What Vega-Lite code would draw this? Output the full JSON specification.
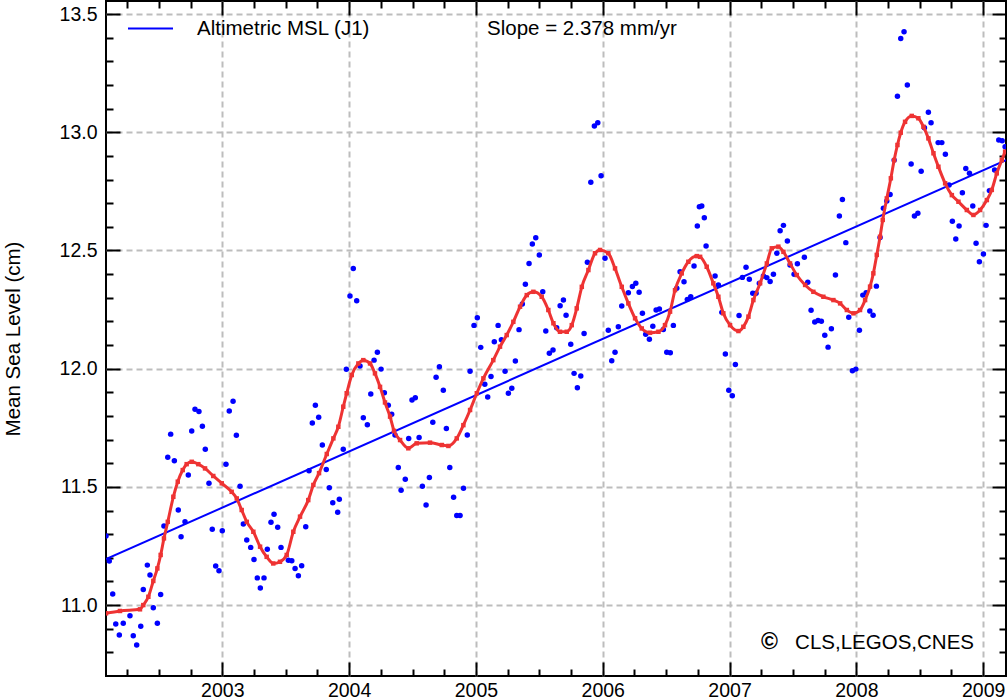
{
  "$schema": "https://vega.github.io/schema/vega-lite/v6.json",
  "width": 900,
  "height": 675,
  "autosize": {"type": "none"},
  "padding": {"left": 106, "top": 1, "right": 1, "bottom": 24},
  "background": "white",
  "config": {
    "view": {"stroke": "black", "strokeWidth": 2},
    "font": "Liberation Sans",
    "axis": {"labelFont": "Liberation Sans", "titleFont": "Liberation Sans", "labelColor": "black", "titleColor": "black", "tickColor": "black", "tickWidth": 2, "labelFlush": false, "labelOverlap": false, "labelBound": false, "domain": false}
  },
  "datasets": {
    "obs": [
      {"year":2002.083,"msl":11.292},{"year":2002.109,"msl":11.186},{"year":2002.136,"msl":11.047},{"year":2002.160,"msl":10.920},{"year":2002.188,"msl":10.873},{"year":2002.219,"msl":10.923},{"year":2002.272,"msl":10.955},{"year":2002.298,"msl":10.870},{"year":2002.325,"msl":10.831},{"year":2002.357,"msl":10.910},{"year":2002.377,"msl":11.066},{"year":2002.409,"msl":11.169},{"year":2002.430,"msl":11.127},{"year":2002.456,"msl":10.989},{"year":2002.488,"msl":10.923},{"year":2002.514,"msl":11.045},{"year":2002.540,"msl":11.334},{"year":2002.570,"msl":11.625},{"year":2002.593,"msl":11.723},{"year":2002.622,"msl":11.610},{"year":2002.653,"msl":11.402},{"year":2002.675,"msl":11.289},{"year":2002.706,"msl":11.352},{"year":2002.732,"msl":11.550},{"year":2002.759,"msl":11.736},{"year":2002.785,"msl":11.828},{"year":2002.816,"msl":11.819},{"year":2002.843,"msl":11.756},{"year":2002.866,"msl":11.659},{"year":2002.895,"msl":11.515},{"year":2002.921,"msl":11.321},{"year":2002.948,"msl":11.165},{"year":2002.974,"msl":11.145},{"year":2003.000,"msl":11.314},{"year":2003.029,"msl":11.596},{"year":2003.055,"msl":11.821},{"year":2003.085,"msl":11.862},{"year":2003.111,"msl":11.718},{"year":2003.140,"msl":11.503},{"year":2003.166,"msl":11.343},{"year":2003.193,"msl":11.275},{"year":2003.224,"msl":11.244},{"year":2003.250,"msl":11.193},{"year":2003.276,"msl":11.115},{"year":2003.300,"msl":11.072},{"year":2003.329,"msl":11.115},{"year":2003.355,"msl":11.236},{"year":2003.384,"msl":11.350},{"year":2003.408,"msl":11.384},{"year":2003.437,"msl":11.329},{"year":2003.463,"msl":11.244},{"year":2003.521,"msl":11.190},{"year":2003.548,"msl":11.187},{"year":2003.574,"msl":11.155},{"year":2003.600,"msl":11.124},{"year":2003.626,"msl":11.166},{"year":2003.658,"msl":11.331},{"year":2003.684,"msl":11.568},{"year":2003.710,"msl":11.770},{"year":2003.734,"msl":11.845},{"year":2003.760,"msl":11.794},{"year":2003.789,"msl":11.677},{"year":2003.820,"msl":11.573},{"year":2003.844,"msl":11.496},{"year":2003.871,"msl":11.433},{"year":2003.910,"msl":11.393},{"year":2003.923,"msl":11.448},{"year":2003.954,"msl":11.659},{"year":2003.978,"msl":11.997},{"year":2004.007,"msl":12.307},{"year":2004.033,"msl":12.424},{"year":2004.060,"msl":12.287},{"year":2004.086,"msl":12.011},{"year":2004.112,"msl":11.792},{"year":2004.144,"msl":11.763},{"year":2004.171,"msl":11.893},{"year":2004.197,"msl":12.036},{"year":2004.223,"msl":12.069},{"year":2004.252,"msl":11.998},{"year":2004.278,"msl":11.898},{"year":2004.309,"msl":11.845},{"year":2004.336,"msl":11.807},{"year":2004.362,"msl":11.719},{"year":2004.388,"msl":11.582},{"year":2004.410,"msl":11.486},{"year":2004.443,"msl":11.532},{"year":2004.470,"msl":11.705},{"year":2004.496,"msl":11.867},{"year":2004.522,"msl":11.877},{"year":2004.552,"msl":11.709},{"year":2004.578,"msl":11.503},{"year":2004.607,"msl":11.423},{"year":2004.633,"msl":11.540},{"year":2004.660,"msl":11.773},{"year":2004.686,"msl":11.964},{"year":2004.712,"msl":12.008},{"year":2004.743,"msl":11.909},{"year":2004.767,"msl":11.747},{"year":2004.794,"msl":11.582},{"year":2004.824,"msl":11.456},{"year":2004.849,"msl":11.379},{"year":2004.875,"msl":11.379},{"year":2004.902,"msl":11.494},{"year":2004.932,"msl":11.719},{"year":2004.954,"msl":11.989},{"year":2004.985,"msl":12.183},{"year":2005.011,"msl":12.215},{"year":2005.038,"msl":12.090},{"year":2005.070,"msl":11.934},{"year":2005.093,"msl":11.880},{"year":2005.119,"msl":11.967},{"year":2005.145,"msl":12.114},{"year":2005.175,"msl":12.183},{"year":2005.201,"msl":12.122},{"year":2005.230,"msl":11.989},{"year":2005.256,"msl":11.896},{"year":2005.283,"msl":11.917},{"year":2005.311,"msl":12.032},{"year":2005.340,"msl":12.165},{"year":2005.366,"msl":12.273},{"year":2005.390,"msl":12.357},{"year":2005.419,"msl":12.445},{"year":2005.445,"msl":12.527},{"year":2005.472,"msl":12.554},{"year":2005.500,"msl":12.481},{"year":2005.527,"msl":12.325},{"year":2005.551,"msl":12.159},{"year":2005.579,"msl":12.065},{"year":2005.608,"msl":12.079},{"year":2005.637,"msl":12.173},{"year":2005.664,"msl":12.266},{"year":2005.690,"msl":12.290},{"year":2005.711,"msl":12.226},{"year":2005.748,"msl":12.103},{"year":2005.774,"msl":11.980},{"year":2005.800,"msl":11.919},{"year":2005.827,"msl":11.969},{"year":2005.853,"msl":12.149},{"year":2005.879,"msl":12.450},{"year":2005.906,"msl":12.788},{"year":2005.934,"msl":13.026},{"year":2005.961,"msl":13.040},{"year":2005.987,"msl":12.816},{"year":2006.018,"msl":12.467},{"year":2006.044,"msl":12.162},{"year":2006.071,"msl":12.033},{"year":2006.097,"msl":12.069},{"year":2006.123,"msl":12.177},{"year":2006.150,"msl":12.265},{"year":2006.202,"msl":12.321},{"year":2006.234,"msl":12.347},{"year":2006.261,"msl":12.361},{"year":2006.287,"msl":12.323},{"year":2006.313,"msl":12.234},{"year":2006.339,"msl":12.145},{"year":2006.368,"msl":12.124},{"year":2006.395,"msl":12.179},{"year":2006.421,"msl":12.248},{"year":2006.447,"msl":12.252},{"year":2006.478,"msl":12.166},{"year":2006.505,"msl":12.069},{"year":2006.533,"msl":12.067},{"year":2006.557,"msl":12.183},{"year":2006.584,"msl":12.340},{"year":2006.610,"msl":12.410},{"year":2006.641,"msl":12.368},{"year":2006.667,"msl":12.293},{"year":2006.694,"msl":12.304},{"year":2006.720,"msl":12.434},{"year":2006.746,"msl":12.603},{"year":2006.762,"msl":12.685},{"year":2006.781,"msl":12.688},{"year":2006.801,"msl":12.638},{"year":2006.815,"msl":12.519},{"year":2006.886,"msl":12.392},{"year":2006.912,"msl":12.354},{"year":2006.939,"msl":12.238},{"year":2006.967,"msl":12.062},{"year":2006.994,"msl":11.909},{"year":2007.022,"msl":11.885},{"year":2007.046,"msl":12.018},{"year":2007.075,"msl":12.225},{"year":2007.101,"msl":12.386},{"year":2007.130,"msl":12.429},{"year":2007.156,"msl":12.378},{"year":2007.183,"msl":12.319},{"year":2007.209,"msl":12.319},{"year":2007.235,"msl":12.361},{"year":2007.267,"msl":12.392},{"year":2007.294,"msl":12.385},{"year":2007.320,"msl":12.369},{"year":2007.346,"msl":12.399},{"year":2007.373,"msl":12.488},{"year":2007.399,"msl":12.583},{"year":2007.425,"msl":12.606},{"year":2007.456,"msl":12.540},{"year":2007.477,"msl":12.438},{"year":2007.509,"msl":12.399},{"year":2007.535,"msl":12.444},{"year":2007.590,"msl":12.471},{"year":2007.617,"msl":12.365},{"year":2007.643,"msl":12.247},{"year":2007.672,"msl":12.197},{"year":2007.698,"msl":12.204},{"year":2007.724,"msl":12.200},{"year":2007.751,"msl":12.141},{"year":2007.777,"msl":12.091},{"year":2007.803,"msl":12.169},{"year":2007.835,"msl":12.396},{"year":2007.866,"msl":12.646},{"year":2007.890,"msl":12.715},{"year":2007.917,"msl":12.533},{"year":2007.940,"msl":12.217},{"year":2007.969,"msl":11.991},{"year":2007.996,"msl":11.998},{"year":2008.024,"msl":12.162},{"year":2008.051,"msl":12.311},{"year":2008.077,"msl":12.321},{"year":2008.106,"msl":12.244},{"year":2008.132,"msl":12.226},{"year":2008.158,"msl":12.349},{"year":2008.187,"msl":12.555},{"year":2008.213,"msl":12.678},{"year":2008.240,"msl":12.709},{"year":2008.266,"msl":12.737},{"year":2008.298,"msl":12.882},{"year":2008.324,"msl":13.152},{"year":2008.350,"msl":13.396},{"year":2008.376,"msl":13.425},{"year":2008.402,"msl":13.200},{"year":2008.432,"msl":12.866},{"year":2008.458,"msl":12.646},{"year":2008.485,"msl":12.657},{"year":2008.511,"msl":12.835},{"year":2008.537,"msl":13.019},{"year":2008.568,"msl":13.084},{"year":2008.589,"msl":13.040},{"year":2008.645,"msl":12.956},{"year":2008.674,"msl":12.956},{"year":2008.702,"msl":12.907},{"year":2008.731,"msl":12.777},{"year":2008.757,"msl":12.623},{"year":2008.784,"msl":12.548},{"year":2008.810,"msl":12.603},{"year":2008.836,"msl":12.744},{"year":2008.863,"msl":12.847},{"year":2008.892,"msl":12.826},{"year":2008.918,"msl":12.688},{"year":2008.944,"msl":12.530},{"year":2008.970,"msl":12.452},{"year":2009.002,"msl":12.485},{"year":2009.023,"msl":12.606},{"year":2009.049,"msl":12.753},{"year":2009.090,"msl":12.840},{"year":2009.123,"msl":12.967},{"year":2009.150,"msl":12.964},{"year":2009.173,"msl":12.939}
    ],
    "smooth": [
      {"year":2002.083,"msl":10.965},{"year":2002.193,"msl":10.975},{"year":2002.351,"msl":10.982},{"year":2002.377,"msl":11.000},{"year":2002.417,"msl":11.035},{"year":2002.456,"msl":11.102},{"year":2002.488,"msl":11.155},{"year":2002.514,"msl":11.212},{"year":2002.540,"msl":11.282},{"year":2002.570,"msl":11.352},{"year":2002.614,"msl":11.458},{"year":2002.649,"msl":11.522},{"year":2002.688,"msl":11.571},{"year":2002.719,"msl":11.596},{"year":2002.759,"msl":11.606},{"year":2002.811,"msl":11.596},{"year":2002.864,"msl":11.578},{"year":2002.929,"msl":11.546},{"year":2002.996,"msl":11.515},{"year":2003.074,"msl":11.479},{"year":2003.114,"msl":11.451},{"year":2003.153,"msl":11.402},{"year":2003.193,"msl":11.352},{"year":2003.245,"msl":11.310},{"year":2003.298,"msl":11.247},{"year":2003.350,"msl":11.204},{"year":2003.402,"msl":11.176},{"year":2003.455,"msl":11.183},{"year":2003.508,"msl":11.212},{"year":2003.560,"msl":11.310},{"year":2003.613,"msl":11.374},{"year":2003.678,"msl":11.444},{"year":2003.718,"msl":11.508},{"year":2003.763,"msl":11.558},{"year":2003.824,"msl":11.639},{"year":2003.876,"msl":11.705},{"year":2003.915,"msl":11.754},{"year":2003.954,"msl":11.839},{"year":2003.981,"msl":11.896},{"year":2004.021,"msl":11.973},{"year":2004.073,"msl":12.022},{"year":2004.112,"msl":12.036},{"year":2004.165,"msl":12.022},{"year":2004.204,"msl":11.980},{"year":2004.244,"msl":11.923},{"year":2004.283,"msl":11.857},{"year":2004.323,"msl":11.797},{"year":2004.354,"msl":11.737},{"year":2004.402,"msl":11.698},{"year":2004.467,"msl":11.663},{"year":2004.533,"msl":11.684},{"year":2004.638,"msl":11.687},{"year":2004.731,"msl":11.677},{"year":2004.783,"msl":11.673},{"year":2004.849,"msl":11.705},{"year":2004.901,"msl":11.761},{"year":2004.954,"msl":11.825},{"year":2005.007,"msl":11.896},{"year":2005.059,"msl":11.959},{"year":2005.137,"msl":12.036},{"year":2005.190,"msl":12.093},{"year":2005.243,"msl":12.142},{"year":2005.295,"msl":12.198},{"year":2005.348,"msl":12.262},{"year":2005.401,"msl":12.311},{"year":2005.453,"msl":12.325},{"year":2005.519,"msl":12.304},{"year":2005.571,"msl":12.248},{"year":2005.611,"msl":12.192},{"year":2005.663,"msl":12.156},{"year":2005.716,"msl":12.156},{"year":2005.756,"msl":12.184},{"year":2005.795,"msl":12.255},{"year":2005.835,"msl":12.346},{"year":2005.887,"msl":12.417},{"year":2005.939,"msl":12.488},{"year":2005.979,"msl":12.502},{"year":2006.044,"msl":12.488},{"year":2006.097,"msl":12.424},{"year":2006.150,"msl":12.346},{"year":2006.202,"msl":12.276},{"year":2006.255,"msl":12.213},{"year":2006.308,"msl":12.170},{"year":2006.373,"msl":12.152},{"year":2006.439,"msl":12.156},{"year":2006.491,"msl":12.184},{"year":2006.531,"msl":12.241},{"year":2006.570,"msl":12.332},{"year":2006.623,"msl":12.403},{"year":2006.675,"msl":12.452},{"year":2006.742,"msl":12.476},{"year":2006.768,"msl":12.473},{"year":2006.820,"msl":12.431},{"year":2006.872,"msl":12.361},{"year":2006.912,"msl":12.304},{"year":2006.951,"msl":12.234},{"year":2007.004,"msl":12.184},{"year":2007.070,"msl":12.159},{"year":2007.109,"msl":12.177},{"year":2007.149,"msl":12.220},{"year":2007.188,"msl":12.290},{"year":2007.241,"msl":12.361},{"year":2007.294,"msl":12.445},{"year":2007.333,"msl":12.509},{"year":2007.385,"msl":12.516},{"year":2007.425,"msl":12.494},{"year":2007.477,"msl":12.445},{"year":2007.530,"msl":12.396},{"year":2007.596,"msl":12.354},{"year":2007.661,"msl":12.325},{"year":2007.740,"msl":12.304},{"year":2007.819,"msl":12.290},{"year":2007.872,"msl":12.276},{"year":2007.925,"msl":12.248},{"year":2007.977,"msl":12.234},{"year":2008.029,"msl":12.248},{"year":2008.069,"msl":12.290},{"year":2008.108,"msl":12.347},{"year":2008.134,"msl":12.403},{"year":2008.161,"msl":12.481},{"year":2008.187,"msl":12.558},{"year":2008.208,"msl":12.629},{"year":2008.240,"msl":12.720},{"year":2008.272,"msl":12.805},{"year":2008.298,"msl":12.882},{"year":2008.324,"msl":12.946},{"year":2008.350,"msl":12.998},{"year":2008.384,"msl":13.044},{"year":2008.437,"msl":13.069},{"year":2008.489,"msl":13.059},{"year":2008.529,"msl":13.023},{"year":2008.568,"msl":12.974},{"year":2008.608,"msl":12.911},{"year":2008.647,"msl":12.854},{"year":2008.700,"msl":12.784},{"year":2008.753,"msl":12.734},{"year":2008.805,"msl":12.706},{"year":2008.871,"msl":12.671},{"year":2008.923,"msl":12.650},{"year":2008.976,"msl":12.671},{"year":2009.029,"msl":12.713},{"year":2009.068,"msl":12.756},{"year":2009.107,"msl":12.826},{"year":2009.147,"msl":12.882},{"year":2009.173,"msl":12.918}
    ],
    "trend": [
      {"year": 2002.083, "msl": 11.194, "series": "Altimetric MSL (J1)"},
      {"year": 2009.18, "msl": 12.882, "series": "Altimetric MSL (J1)"}
    ],
    "notes": [
      {"year": 2005.088, "msl": 13.411, "label": "Slope = 2.378 mm/yr"},
      {"year": 2007.517, "msl": 10.814, "label": "CLS,LEGOS,CNES"}
    ],
    "copy": [
      {"year": 2007.249, "msl": 10.814, "label": "©"}
    ]
  },
  "resolve": {"axis": {"x": "independent", "y": "independent"}},
  "layer": [
    {
      "data": {"name": "obs"},
      "mark": {"type": "circle", "size": 30, "color": "#0000ff", "opacity": 1, "clip": true},
      "encoding": {
        "x": {"field": "year", "type": "quantitative", "scale": {"domain": [2002.083, 2009.18], "nice": false, "zero": false},
          "axis": {"orient": "bottom", "values": [2003, 2004, 2005, 2006, 2007, 2008, 2009], "format": "d", "tickSize": -14, "labelFontSize": 19.5, "labelPadding": 34, "labelAlign": "center", "labelBaseline": "alphabetic", "grid": true, "gridColor": "#bdbdbd", "gridDash": [6, 4], "gridWidth": 2, "title": null}},
        "y": {"field": "msl", "type": "quantitative", "scale": {"domain": [10.7, 13.555], "nice": false, "zero": false},
          "axis": {"orient": "left", "values": [11, 11.5, 12, 12.5, 13, 13.5], "format": ".1f", "tickSize": -14, "labelFontSize": 19.5, "labelPadding": 23, "grid": true, "gridColor": "#bdbdbd", "gridDash": [6, 4], "gridWidth": 2, "title": "Mean Sea Level (cm)", "titleFontSize": 20.5, "titleFontWeight": "normal", "titlePadding": 36}}
      }
    },
    {
      "data": {"name": "trend"},
      "mark": {"type": "line", "strokeWidth": 2, "clip": true},
      "encoding": {
        "x": {"field": "year", "type": "quantitative", "scale": {"domain": [2002.083, 2009.18], "nice": false, "zero": false},
          "axis": {"orient": "top", "values": [2002.25, 2002.5, 2002.75, 2003.25, 2003.5, 2003.75, 2004.25, 2004.5, 2004.75, 2005.25, 2005.5, 2005.75, 2006.25, 2006.5, 2006.75, 2007.25, 2007.5, 2007.75, 2008.25, 2008.5, 2008.75], "tickSize": -7, "labels": false, "grid": false, "title": null}},
        "y": {"field": "msl", "type": "quantitative", "scale": {"domain": [10.7, 13.555], "nice": false, "zero": false},
          "axis": {"orient": "right", "values": [10.8, 10.9, 11.1, 11.2, 11.3, 11.4, 11.6, 11.7, 11.8, 11.9, 12.1, 12.2, 12.3, 12.4, 12.6, 12.7, 12.8, 12.9, 13.1, 13.2, 13.3, 13.4], "tickSize": -7, "labels": false, "grid": false, "title": null}},
        "color": {"field": "series", "type": "nominal", "scale": {"range": ["#0000ff"]},
          "legend": {"orient": "none", "legendX": 21, "legendY": 4, "title": null, "symbolType": "stroke", "symbolSize": 2025, "symbolStrokeWidth": 2, "labelOffset": 23, "labelFontSize": 20.5, "labelFont": "Liberation Sans", "labelColor": "black", "labelLimit": 0, "padding": 0}}
      }
    },
    {
      "data": {"name": "smooth"},
      "mark": {"type": "line", "color": "#ee3333", "strokeWidth": 3, "interpolate": "monotone", "clip": true},
      "encoding": {
        "x": {"field": "year", "type": "quantitative", "scale": {"domain": [2002.083, 2009.18], "nice": false, "zero": false},
          "axis": {"orient": "bottom", "values": [2002.25, 2002.5, 2002.75, 2003.25, 2003.5, 2003.75, 2004.25, 2004.5, 2004.75, 2005.25, 2005.5, 2005.75, 2006.25, 2006.5, 2006.75, 2007.25, 2007.5, 2007.75, 2008.25, 2008.5, 2008.75], "tickSize": -7, "labels": false, "grid": false, "title": null}},
        "y": {"field": "msl", "type": "quantitative", "scale": {"domain": [10.7, 13.555], "nice": false, "zero": false},
          "axis": {"orient": "left", "values": [10.8, 10.9, 11.1, 11.2, 11.3, 11.4, 11.6, 11.7, 11.8, 11.9, 12.1, 12.2, 12.3, 12.4, 12.6, 12.7, 12.8, 12.9, 13.1, 13.2, 13.3, 13.4], "tickSize": -7, "labels": false, "grid": false, "title": null}}
      }
    },
    {
      "data": {"name": "smooth"},
      "mark": {"type": "square", "size": 20, "color": "#ee3333", "opacity": 1, "clip": true},
      "encoding": {
        "x": {"field": "year", "type": "quantitative", "scale": {"domain": [2002.083, 2009.18], "nice": false, "zero": false},
          "axis": {"orient": "top", "values": [2003, 2004, 2005, 2006, 2007, 2008, 2009], "tickSize": -14, "labels": false, "grid": false, "title": null}},
        "y": {"field": "msl", "type": "quantitative", "scale": {"domain": [10.7, 13.555], "nice": false, "zero": false},
          "axis": {"orient": "right", "values": [11, 11.5, 12, 12.5, 13, 13.5], "tickSize": -14, "labels": false, "grid": false, "title": null}}
      }
    },
    {
      "data": {"name": "notes"},
      "mark": {"type": "text", "align": "left", "baseline": "alphabetic", "fontSize": 20.5, "font": "Liberation Sans", "color": "black"},
      "encoding": {
        "x": {"field": "year", "type": "quantitative", "scale": {"domain": [2002.083, 2009.18], "nice": false, "zero": false}, "axis": null},
        "y": {"field": "msl", "type": "quantitative", "scale": {"domain": [10.7, 13.555], "nice": false, "zero": false}, "axis": null},
        "text": {"field": "label"}
      }
    },
    {
      "data": {"name": "copy"},
      "mark": {"type": "text", "align": "left", "baseline": "alphabetic", "fontSize": 23, "fontWeight": "bold", "font": "Liberation Sans", "color": "black"},
      "encoding": {
        "x": {"field": "year", "type": "quantitative", "scale": {"domain": [2002.083, 2009.18], "nice": false, "zero": false}, "axis": null},
        "y": {"field": "msl", "type": "quantitative", "scale": {"domain": [10.7, 13.555], "nice": false, "zero": false}, "axis": null},
        "text": {"field": "label"}
      }
    }
  ]
}
